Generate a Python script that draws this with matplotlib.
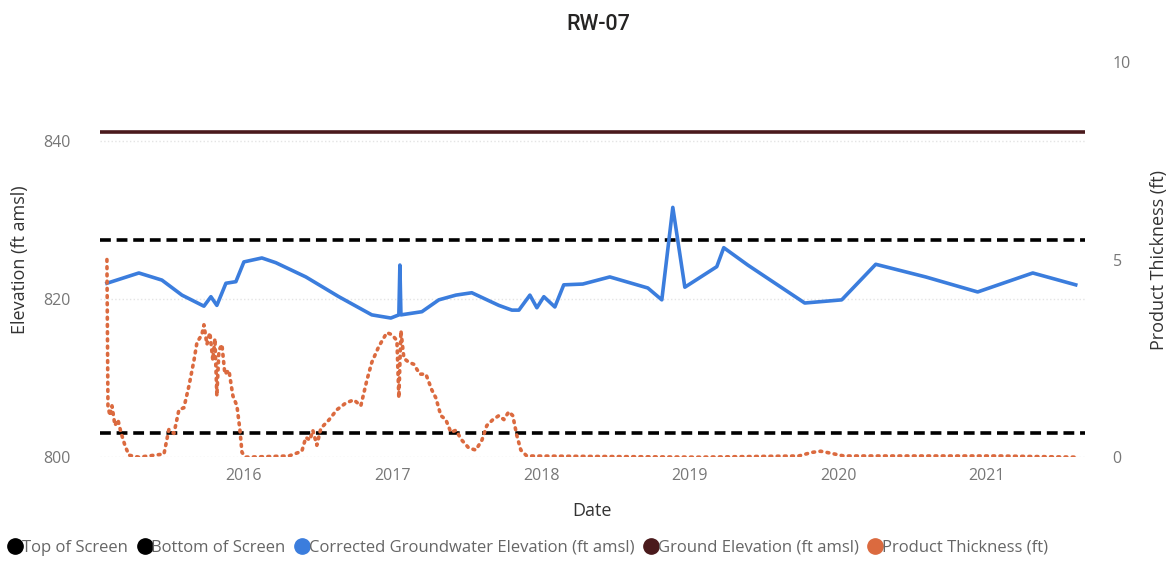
import matplotlib.pyplot as plt

plt.rcParams['font.family'] = ['Open Sans', 'DejaVu Sans']

# corrected groundwater elevation (decimal year, ft amsl)
gw_years = [2015.078, 2015.293, 2015.448, 2015.583, 2015.731, 2015.778, 2015.818, 2015.879,
            2015.946, 2016.000, 2016.121, 2016.215, 2016.417, 2016.639, 2016.861, 2016.989,
            2017.043, 2017.050, 2017.057, 2017.198, 2017.312, 2017.427, 2017.534, 2017.716,
            2017.804, 2017.851, 2017.925, 2017.972, 2018.019, 2018.093, 2018.153, 2018.281,
            2018.463, 2018.719, 2018.813, 2018.887, 2018.968, 2019.183, 2019.230, 2019.392,
            2019.775, 2020.024, 2020.253, 2020.589, 2020.939, 2021.310, 2021.599]
gw_elev = [822.0, 823.3, 822.4, 820.5, 819.1, 820.3, 819.2, 822.0,
           822.2, 824.7, 825.2, 824.6, 822.8, 820.3, 818.0, 817.6,
           818.0, 824.3, 818.0, 818.4, 819.9, 820.5, 820.8, 819.2,
           818.6, 818.6, 820.5, 818.9, 820.3, 819.0, 821.8, 821.9,
           822.8, 821.4, 819.9, 831.6, 821.5, 824.1, 826.5, 824.3,
           819.5, 819.9, 824.4, 822.8, 820.9, 823.3, 821.8]

# product thickness (decimal year, ft)
pt_years = [2015.078, 2015.085, 2015.098, 2015.112, 2015.132, 2015.152, 2015.172, 2015.199,
            2015.226, 2015.293, 2015.462, 2015.495, 2015.529, 2015.563, 2015.596, 2015.630,
            2015.664, 2015.684, 2015.717, 2015.731, 2015.751, 2015.771, 2015.791, 2015.805,
            2015.818, 2015.832, 2015.852, 2015.872, 2015.899, 2015.926, 2015.953, 2015.973,
            2015.987, 2016.013, 2016.303, 2016.390, 2016.417, 2016.444, 2016.464, 2016.491,
            2016.518, 2016.572, 2016.626, 2016.686, 2016.740, 2016.787, 2016.828, 2016.861,
            2016.908, 2016.962, 2016.996, 2017.030, 2017.043, 2017.057, 2017.077, 2017.110,
            2017.144, 2017.184, 2017.225, 2017.265, 2017.292, 2017.326, 2017.359, 2017.393,
            2017.427, 2017.467, 2017.514, 2017.561, 2017.602, 2017.635, 2017.676, 2017.716,
            2017.750, 2017.783, 2017.810, 2017.837, 2017.864, 2017.904, 2019.062, 2019.735,
            2019.822, 2019.883, 2019.950, 2020.038, 2021.081, 2021.599]
pt_ft = [5.0, 1.3, 1.05, 1.3, 0.8, 0.95, 0.63, 0.3,
         0.05, 0.0, 0.08, 0.7, 0.6, 1.2, 1.25, 1.8,
         2.45, 2.9, 3.1, 3.35, 2.85, 3.15, 2.45, 3.0,
         1.55, 2.7, 2.85, 2.1, 2.2, 1.55, 1.3, 0.7,
         0.12, 0.0, 0.03, 0.15, 0.5, 0.43, 0.68, 0.3,
         0.73, 0.94, 1.2, 1.37, 1.45, 1.3, 1.95, 2.4,
         2.8, 3.15, 3.1, 2.95, 1.5, 3.2, 2.5, 2.4,
         2.35, 2.1, 2.1, 1.7, 1.5, 1.05, 0.95, 0.63,
         0.68, 0.43, 0.23, 0.18, 0.43, 0.8, 0.95, 1.05,
         0.95, 1.15, 1.05, 0.55, 0.18, 0.03, 0.0, 0.03,
         0.12, 0.15, 0.1, 0.03, 0.03, 0.0]

top_of_screen = 827.5
bottom_of_screen = 803.0
ground_elev = 841.1

years = [2016, 2017, 2018, 2019, 2020, 2021]

c_blue = '#3B7DDD'
c_ground = '#4A1A1C'
c_orange = '#DB6A3F'
c_text = '#777777'

fig = plt.figure(figsize=(11.74, 5.63), dpi=100)
ax = fig.add_axes([0.085, 0.188, 0.839, 0.702])
ax2 = ax.twinx()

ax.axhline(ground_elev, color=c_ground, lw=2.6, zorder=3)
ax.axhline(top_of_screen, color='black', lw=2.6, ls=(0, (3, 1.6)), zorder=3)
ax.axhline(bottom_of_screen, color='black', lw=2.6, ls=(0, (3, 1.6)), zorder=3)
ax.plot(gw_years, gw_elev, color=c_blue, lw=2.6, zorder=4)
ax2.plot(pt_years, pt_ft, color=c_orange, lw=2.6, ls=(0, (0.5, 1.5)),
         dash_capstyle='round', zorder=2)

ax.set_xlim(2015.03, 2021.66)
ax.set_ylim(800, 850)
ax2.set_ylim(0, 10)
ax.set_yticks([800, 820, 840])
ax2.set_yticks([0, 5, 10])
ax.set_xticks(years)
ax.set_xticklabels([str(y) for y in years])
ax.grid(axis='y', color='#e4e4e4', ls=':', lw=1)

for a in (ax, ax2):
    for s in a.spines.values():
        s.set_visible(False)
    a.tick_params(length=0, labelsize=11.5, labelcolor=c_text)
ax.tick_params(axis='y', pad=21)
ax2.tick_params(axis='y', pad=20)
ax.tick_params(axis='x', pad=8)

ax.set_xlabel('Date', fontsize=13, color='#333333', labelpad=13)
ax.set_ylabel('Elevation (ft amsl)', fontsize=13, color='#333333', labelpad=10)
ax2.set_ylabel('Product Thickness (ft)', fontsize=13, color='#333333', labelpad=14)

fig.text(0.51, 0.957, 'RW-07', ha='center', va='center', fontsize=15.5,
         color='#252423', family='Roboto', weight='medium')

labels = ['Top of Screen', 'Bottom of Screen', 'Corrected Groundwater Elevation (ft amsl)',
          'Ground Elevation (ft amsl)', 'Product Thickness (ft)']
colors = ['black', 'black', c_blue, c_ground, c_orange]
handles = [plt.Line2D([], [], ls='', marker='o', ms=11, color=c) for c in colors]
fig.legend(handles, labels, loc='lower left', bbox_to_anchor=(-0.004, -0.005), ncol=5,
           frameon=False, fontsize=12, labelcolor='#666666', handletextpad=-0.2,
           columnspacing=0.4, handlelength=1.2, borderaxespad=0.2)

fig.savefig('out.png', dpi=100)
